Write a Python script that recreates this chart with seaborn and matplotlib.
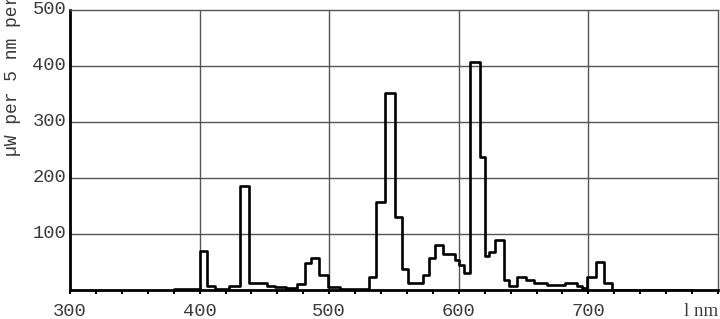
import matplotlib
matplotlib.use("Agg")
import matplotlib.pyplot as plt
import seaborn as sns
import pandas as pd

# wavelength (nm) at start of each step, and level (µW per 5 nm)
wavelength = [380, 400, 406, 412, 423, 431, 438, 452, 458, 467, 475, 481, 486, 492, 499,
              508, 520, 531, 536, 543, 551, 556, 561, 572, 577, 582, 588, 597, 600, 604,
              609, 616, 620, 623, 628, 635, 639, 645, 652, 658, 668, 682, 691, 695, 699,
              706, 712, 718, 780]
power = [1, 70, 7, 2, 7, 186, 12, 8, 6, 3, 11, 48, 57, 26, 5,
         2, 1.5, 24, 158, 351, 130, 37, 12, 27, 58, 80, 64, 54, 45, 30,
         408, 238, 60, 68, 89, 18, 7, 23, 17, 13, 9, 12, 7, 3, 24,
         50, 12, 0, 0]
x_labels = ["300", "400", "500", "600", "700"]
y_labels = ["100", "200", "300", "400", "500"]
x_unit = "l nm"
y_title = "µW per 5 nm per lumen"

sns.set_style("white")
mono = ["Liberation Mono", "DejaVu Sans Mono"]
fig = plt.figure(figsize=(7.2, 3.19), dpi=100)
ax = fig.add_axes([70 / 720, 1 - 290 / 319, 648 / 720, 280 / 319])

df = pd.DataFrame({"wl": wavelength, "p": power})
sns.lineplot(data=df, x="wl", y="p", ax=ax, color="black", linewidth=1.9,
             drawstyle="steps-post", zorder=3)

ax.set_xlim(300, 800)
ax.set_ylim(0, 500)
grid_c = "#555555"
for v in [400, 500, 600, 700]:
    ax.axvline(v, color=grid_c, lw=1.0, zorder=1)
for v in [100, 200, 300, 400]:
    ax.axhline(v, color=grid_c, lw=1.0, zorder=1)

for s in ["top", "right"]:
    ax.spines[s].set_color(grid_c)
    ax.spines[s].set_linewidth(1.0)
for s in ["left", "bottom"]:
    ax.spines[s].set_color("black")
    ax.spines[s].set_linewidth(2.0)

ax.set_xticks(list(range(300, 801, 20)))
ax.set_xticklabels([])
ax.tick_params(axis="x", direction="out", length=3, width=1.5, color="black", bottom=True)
ax.set_yticks([100, 200, 300, 400, 500])
ax.set_yticklabels([])
ax.tick_params(axis="y", length=0)
ax.set_xlabel("")
ax.set_ylabel("")

tc = "#3a3a3a"
for lab in x_labels:
    ax.text(float(lab), -23, lab, ha="center", va="top", fontsize=13.5,
            family=mono, color=tc, clip_on=False)
ax.text(800, -23, x_unit, ha="right", va="top", fontsize=13.5,
        family=["Liberation Serif", "DejaVu Serif"], color=tc, clip_on=False)
for lab in y_labels:
    ax.text(297, float(lab), lab, ha="right", va="center", fontsize=13.5,
            family=mono, color=tc, clip_on=False)

fig.text(13 / 720, 1 - 156 / 319, y_title, rotation=90, ha="center", va="bottom",
         fontsize=13, family=mono, color=tc)

fig.savefig("out.png", dpi=100)
